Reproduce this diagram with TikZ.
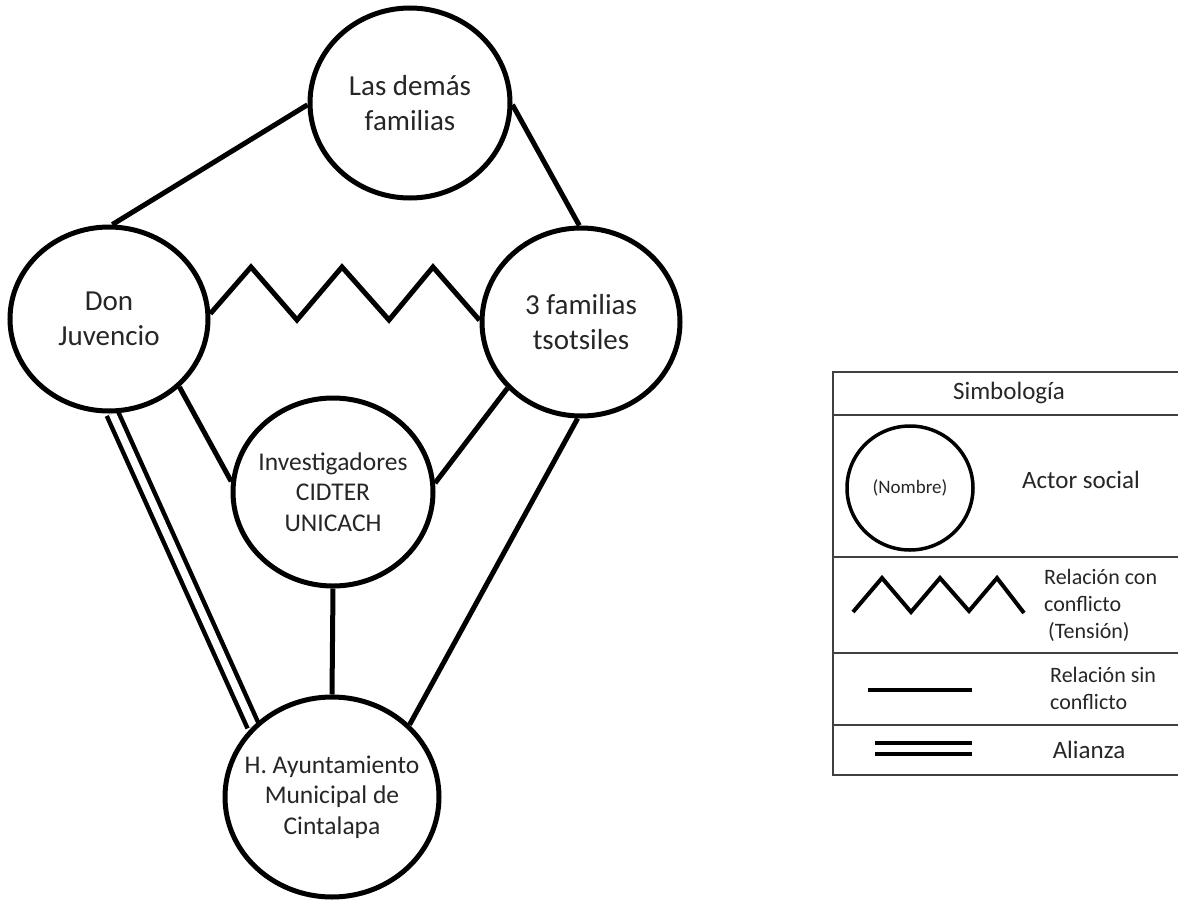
\documentclass[tikz,border=0pt]{standalone}
\usepackage{fontspec}
\setmainfont{Carlito}
\usetikzlibrary{shapes.geometric,backgrounds}
\tikzset{
  actor/.style={draw, ellipse, fill=white, line width=5pt, inner sep=0pt},
  rel/.style={line width=5pt},
  alianza/.style={line width=4.5pt, double, double distance=7.5pt},
  txt/.style={text=black!85, align=center},
  bigtxt/.style={txt, font=\fontsize{29}{35}\selectfont},
  midtxt/.style={txt, font=\fontsize{25.5}{30.5}\selectfont},
  boxline/.style={line width=1.5pt, draw=black!75},
  legtxt/.style={text=black!85, font=\fontsize{22}{27}\selectfont, inner sep=0pt}
}
\begin{document}
\begin{tikzpicture}[x=1pt, y=-1pt]
\useasboundingbox (0,0) rectangle (1178,902);

% actors
\node[actor, minimum width=200pt, minimum height=190pt,
  label={[bigtxt]center:Las demás\\familias}] (ldf) at (410,103) {};
\node[actor, minimum width=198pt, minimum height=184pt,
  label={[bigtxt]center:Don\\Juvencio}] (dj) at (109,319) {};
\node[actor, minimum width=198pt, minimum height=188pt,
  label={[bigtxt]center:3 familias\\tsotsiles}] (tf) at (581,322) {};
\node[actor, minimum width=200pt, minimum height=188pt,
  label={[midtxt]center:Investigadores\\CIDTER\\UNICACH}] (inv) at (333,492) {};
\node[actor, minimum width=214pt, minimum height=200pt,
  label={[midtxt]center:H. Ayuntamiento\\Municipal de\\Cintalapa}] (ayu) at (332,797) {};

% relations
\begin{scope}[on background layer]
\draw[rel] (dj.88) -- (ldf.181);
\draw[rel] (ldf.-1) -- (tf.91);
\draw[rel] (dj.3) -- (251,267) -- (297,320) -- (342,267) -- (389,320) -- (433,267) -- (tf.179);
\draw[rel] (dj.-44) -- (inv.174);
\draw[rel] (tf.-138) -- (inv.5);
\draw[rel] (inv.-90) -- (ayu.90);
\draw[rel] (tf.-92) -- (ayu.43);
\draw[alianza] (dj.-88) -- (ayu.138);
\end{scope}

% legend table
\draw[boxline] (1178,372) -- (833,372) -- (833,775) -- (1178,775);
\draw[boxline] (833,415) -- (1178,415);
\draw[boxline] (833,557) -- (1178,557);
\draw[boxline] (833,653) -- (1178,653);
\draw[boxline] (833,725) -- (1178,725);

\node[txt, font=\fontsize{25}{30}\selectfont] (simb) at (1009,393) {Simbología};

\node[draw, ellipse, line width=3.5pt, inner sep=0pt, minimum width=126pt, minimum height=124pt,
  label={[txt, font=\fontsize{19}{23}\selectfont]center:(Nombre)}] (lact) at (910,488) {};
\node[txt, font=\fontsize{25}{30}\selectfont] (actxt) at (1081,480) {Actor social};

\draw[line width=4pt] (853,612) -- (882,578) -- (911,612) -- (940,578) -- (969,611) -- (997,578) -- (1024,613);
\node[legtxt, align=left, anchor=north west] (contxt) at (1044,569) {Relación con\\conflicto\\\hspace{4pt}(Tensión)};

\draw[line width=4.5pt] (868,690) -- (972,690);
\node[legtxt, align=left, anchor=north west] (sintxt) at (1050,667) {Relación sin\\conflicto};

\draw[line width=4pt, double, double distance=7pt] (875,748.5) -- (972,748.5);
\node[txt, font=\fontsize{25}{30}\selectfont] (alitxt) at (1089,750) {Alianza};
\end{tikzpicture}
\end{document}
